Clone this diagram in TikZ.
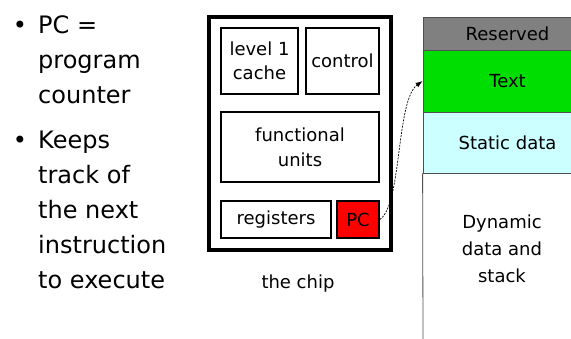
\documentclass[tikz,border=0pt]{standalone}
\usepackage{fontspec}
\setmainfont{DejaVu Sans}
\usetikzlibrary{arrows.meta}
\definecolor{resgray}{RGB}{128,128,128}
\definecolor{textgreen}{RGB}{0,221,0}
\definecolor{statcyan}{RGB}{204,255,255}
\definecolor{pcred}{RGB}{255,0,0}
\definecolor{segline}{RGB}{80,80,80}
\begin{document}
\begin{tikzpicture}[x=1pt,y=1pt,
  unit/.style={draw=black, line width=1.6pt, inner sep=0pt, align=center,
    font=\fontsize{18}{24}\selectfont},
  chipbox/.style={draw=black, line width=4pt, inner sep=0pt},
  seg/.style={draw=segline, line width=0.8pt, inner sep=0pt, align=center,
    minimum width=169pt, font=\fontsize{18}{27}\selectfont},
  bultext/.style={inner sep=0pt, align=left, anchor=base west,
    font=\fontsize{24}{35}\selectfont},
  bulmark/.style={inner sep=0pt, anchor=base, font=\fontsize{24}{35}\selectfont},
  label/.style={inner sep=0pt, font=\fontsize{18}{24}\selectfont},
  pcarrow/.style={line width=0.7pt, dash pattern=on 2pt off 1.2pt, -{Latex[length=7pt,width=5pt]}}
]
\useasboundingbox (0,0) rectangle (571,-338);
\clip (0,0) rectangle (571,-338);

% bullets (base anchor of a multi-line node = baseline of its last line)
\node[bulmark] (b1) at (20,-33) {•};
\node[bultext] (t1) at (38,-103) {PC =\\program\\counter};
\node[bulmark] (b2) at (20,-148) {•};
\node[bultext] (t2) at (38,-288) {Keeps\\track of\\the next\\instruction\\to execute};

% chip
\node[chipbox, minimum width=182pt, minimum height=233pt] (chip) at (300,-133.5) {};
\node[unit, minimum width=77pt, minimum height=66pt] (cache) at (259.5,-61) {level 1\\cache};
\node[unit, minimum width=73pt, minimum height=66pt] (control) at (342.5,-61) {control};
\node[unit, minimum width=158pt, minimum height=70pt, font=\fontsize{18}{25}\selectfont] (func) at (300,-147) {functional\\units};
\node[unit, minimum width=110pt, minimum height=37pt] (regs) at (276,-219.5) {registers};
\node[unit, fill=pcred, minimum width=42pt, minimum height=37pt] (pc) at (358,-219.5) {PC};
\node[label] (chiplabel) at (298,-284) {the chip};

% memory
\node[seg, fill=resgray, minimum height=33pt] (res) at (507.5,-33.5) {Reserved};
\node[seg, fill=textgreen, minimum height=62pt] (text) at (507.5,-81) {Text};
\node[seg, fill=statcyan, minimum height=61pt] (stat) at (507.5,-142.5) {Static data};
\coordinate (membot) at (423,-340);
\draw[draw=segline, line width=0.8pt] (stat.south west) -- (membot);
\node[inner sep=0pt, align=center, font=\fontsize{18}{27}\selectfont] (dyn) at (502,-249) {Dynamic\\data and\\stack};

% arrow
\draw[pcarrow] (pc.east) .. controls (402,-205) and (396,-100) .. (text.west);
\end{tikzpicture}
\end{document}
